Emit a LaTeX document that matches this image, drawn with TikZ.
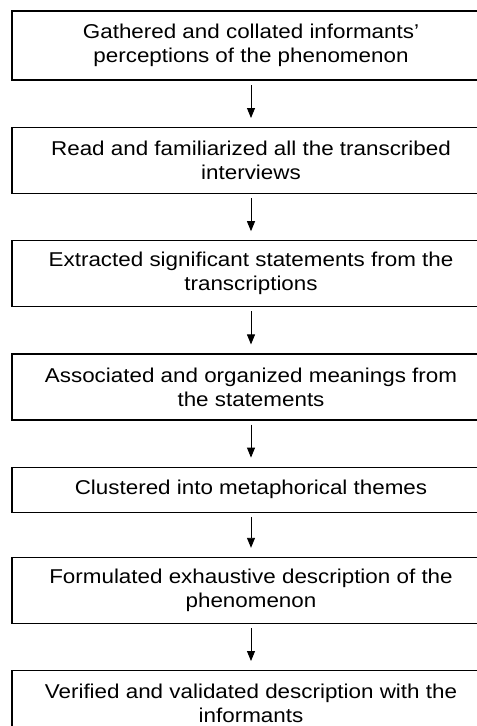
\documentclass[tikz,border=0pt]{standalone}
\usepackage{fontspec}
\setmainfont{Liberation Sans}[FakeStretch=1.12]
\usetikzlibrary{positioning,arrows.meta}

\begin{document}
\begin{tikzpicture}[stage/.style={draw,line width=1.2bp,minimum width=478bp,minimum height=66bp,
align=center,inner sep=2bp,font=\fontsize{20bp}{24bp}\selectfont},
node distance=46bp,
flow/.style={-{Triangle[width=8bp,length=10bp]},line width=0.9bp,shorten <=4bp,shorten >=9bp}]
\useasboundingbox (0,0) rectangle (477bp,-726bp);
\node[stage,anchor=north west,line width=2bp,minimum height=69bp] (gather) at (11bp,-10bp)
  {Gathered and collated informants'\\perceptions of the phenomenon};
\node[stage,below=of gather] (read) {Read and familiarized all the transcribed\\interviews};
\node[stage,below=of read] (extract) {Extracted significant statements from the\\transcriptions};
\node[stage,below=of extract] (assoc) {Associated and organized meanings from\\the statements};
\node[stage,below=of assoc,minimum height=45bp] (cluster) {Clustered into metaphorical themes};
\node[stage,below=44bp of cluster] (formul) {Formulated exhaustive description of the\\phenomenon};
\node[stage,below=of formul] (verify) {Verified and validated description with the\\informants};
% arrows between the steps
\foreach \a/\b in {gather/read,read/extract,extract/assoc,assoc/cluster,cluster/formul,formul/verify}
  \draw[flow] (\a) -- (\b);
\end{tikzpicture}
\end{document}
